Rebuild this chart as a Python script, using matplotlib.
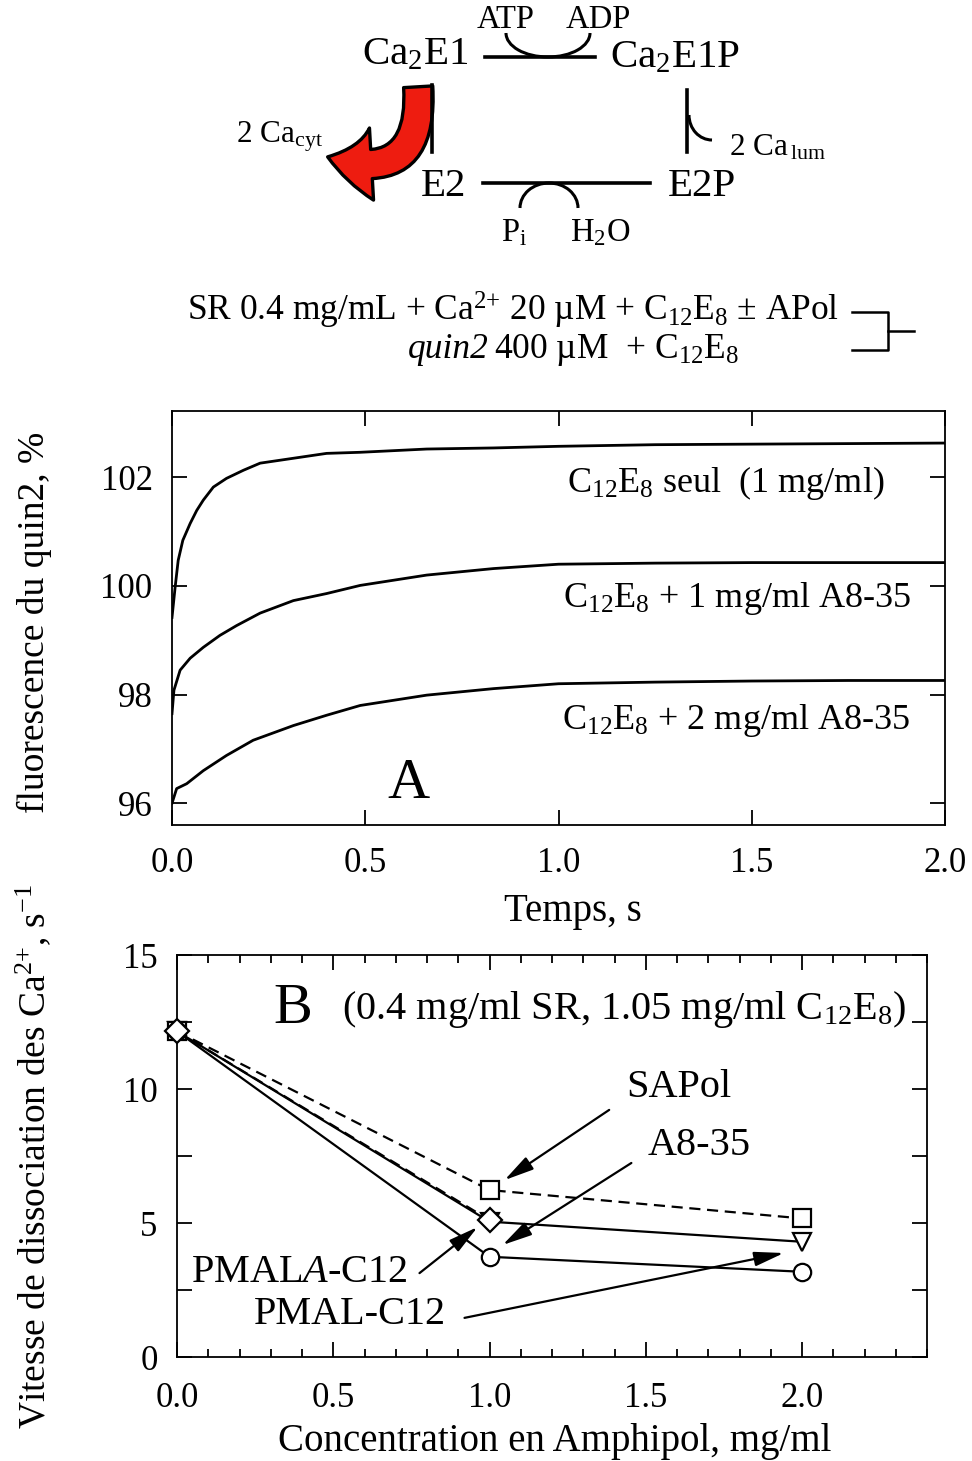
import matplotlib
matplotlib.use("Agg")
import matplotlib.pyplot as plt
from matplotlib.ticker import MultipleLocator, FormatStrFormatter
from matplotlib.patches import FancyArrowPatch, Arc

plt.rcParams['font.family'] = ['Liberation Serif', 'DejaVu Serif']
plt.rcParams['mathtext.fontset'] = 'custom'
plt.rcParams['mathtext.rm'] = 'Liberation Serif'
plt.rcParams['mathtext.it'] = 'Liberation Serif:italic'
plt.rcParams['mathtext.bf'] = 'Liberation Serif:bold'

# ---- panel A : quin2 fluorescence traces (time in s, %)
t_seul = [0.0, 0.008, 0.016, 0.028, 0.047, 0.064, 0.081, 0.107, 0.141, 0.185,
          0.228, 0.314, 0.40, 0.487, 0.659, 0.832, 1.0, 1.25, 1.5, 1.75, 2.0]
f_seul = [99.42, 99.97, 100.47, 100.84, 101.15, 101.39, 101.58, 101.82, 101.98, 102.13,
          102.26, 102.35, 102.44, 102.46, 102.52, 102.54, 102.57, 102.6, 102.61, 102.62, 102.63]

t_a1 = [0.0, 0.005, 0.021, 0.047, 0.081, 0.124, 0.167, 0.228, 0.314, 0.40,
        0.487, 0.659, 0.832, 1.0, 1.25, 1.5, 1.75, 2.0]
f_a1 = [97.65, 98.08, 98.45, 98.67, 98.87, 99.09, 99.27, 99.5, 99.73, 99.86,
        100.01, 100.2, 100.32, 100.4, 100.42, 100.43, 100.43, 100.43]

t_a2 = [0.0, 0.012, 0.038, 0.081, 0.141, 0.21, 0.314, 0.40, 0.487, 0.659,
        0.832, 1.0, 1.25, 1.5, 1.75, 2.0]
f_a2 = [96.0, 96.27, 96.36, 96.6, 96.88, 97.16, 97.43, 97.62, 97.8, 97.99,
        98.11, 98.2, 98.23, 98.25, 98.26, 98.26]

trace_labels = [r'C$_{12}$E$_8$ seul  (1 mg/ml)',
                r'C$_{12}$E$_8$ + 1 mg/ml A8-35',
                r'C$_{12}$E$_8$ + 2 mg/ml A8-35']

# ---- panel B : dissociation rate vs amphipol concentration
conc = [0.0, 1.0, 2.0]
k_sapol = [12.15, 6.23, 5.17]
k_a835 = [12.15, 3.74, 3.18]
k_pmal = [12.15, 5.05, 4.3]
conc_pmala = [0.0, 1.0]
k_pmala = [12.15, 5.11]

fig = plt.figure(figsize=(9.72, 14.61), dpi=100)

# ---- reaction scheme drawn in pixel coordinates
sch = fig.add_axes([0, 0, 1, 1])
sch.set_xlim(0, 972)
sch.set_ylim(1461, 0)
sch.axis('off')
big = 29.5
small = 23.5
sch.text(415, 55, r'Ca$_2$E1', fontsize=big, ha='center', va='center')
sch.text(675, 58, r'Ca$_2$E1P', fontsize=big, ha='center', va='center')
sch.text(443, 187, 'E2', fontsize=big, ha='center', va='center')
sch.text(702, 187, 'E2P', fontsize=big, ha='center', va='center')
sch.text(506, 20, 'ATP', fontsize=small, ha='center', va='center')
sch.text(598, 20, 'ADP', fontsize=small, ha='center', va='center')
sch.text(514, 233, r'P$_{\mathrm{i}}$', fontsize=small, ha='center', va='center')
sch.text(600, 233, r'H$_2$O', fontsize=small, ha='center', va='center')
sch.text(279, 137, r'2 Ca$_{\mathrm{cyt}}$', fontsize=small - 1, ha='center', va='center')
sch.text(777, 148, r'2 Ca$_{\,\mathrm{lum}}$', fontsize=small - 1, ha='center', va='center')
sch.add_patch(FancyArrowPatch((418, 84), (325, 156), connectionstyle='arc3,rad=-0.75',
                              arrowstyle='simple,head_width=2.6,head_length=1.6,tail_width=1.05',
                              mutation_scale=20, fc='#ee1c10', ec='black', lw=2.4, zorder=1))
sch.plot([485, 595], [57, 57], color='black', lw=2.6)
sch.plot([483, 650], [183, 183], color='black', lw=2.6)
sch.plot([432, 432], [85, 152], color='black', lw=2.6, zorder=3)
sch.plot([687, 687], [90, 152], color='black', lw=2.6)
sch.add_patch(Arc((548, 33), 84, 48, theta1=0, theta2=180, color='black', lw=2.2))
sch.add_patch(Arc((549, 208), 58, 50, theta1=180, theta2=360, color='black', lw=2.2))
sch.add_patch(Arc((712, 115), 46, 50, theta1=90, theta2=180, color='black', lw=2.2))

sch.text(513, 310, r'SR 0.4 mg/mL + Ca$^{2{+}}$ 20 µM + C$_{12}$E$_8$ ± APol',
         fontsize=25.5, ha='center', va='center')
sch.text(489, 350, 'quin2', fontsize=25.5, style='italic', ha='right', va='center')
sch.text(494, 350, r'400 µM  + C$_{12}$E$_8$', fontsize=25.5, ha='left', va='center')
sch.plot([852, 888, 888, 852], [312, 312, 350, 350], color='black', lw=1.8)
sch.plot([888, 914], [331, 331], color='black', lw=1.8)

# ---- panel A
axA = fig.add_axes([172/972, 1-825/1461, 773/972, 414/1461])
for t, f in [(t_seul, f_seul), (t_a1, f_a1), (t_a2, f_a2)]:
    axA.plot(t, f, color='black', lw=2.0)
axA.set_xlim(0, 2.0)
axA.set_ylim(95.6, 103.22)
axA.xaxis.set_major_locator(MultipleLocator(0.5))
axA.xaxis.set_major_formatter(FormatStrFormatter('%.1f'))
axA.yaxis.set_major_locator(MultipleLocator(2))
axA.tick_params(direction='in', length=11, width=1.3, top=True, right=True, labelsize=25)
axA.tick_params(axis='x', pad=16)
axA.tick_params(axis='y', pad=14)
for s in axA.spines.values():
    s.set_linewidth(1.3)
axA.text(1.022, 101.9, trace_labels[0], fontsize=26, va='center')
axA.text(1.012, 99.77, trace_labels[1], fontsize=26, va='center')
axA.text(1.009, 97.52, trace_labels[2], fontsize=26, va='center')
axA.text(0.611, 96.35, 'A', fontsize=42, ha='center', va='center')
axA.set_xlabel('Temps, s', fontsize=28)
axA.xaxis.set_label_coords(0.519, -0.165)
axA.set_ylabel('fluorescence du quin2, %', fontsize=27)
axA.yaxis.set_label_coords(-0.155, 0.49)

# ---- panel B
axB = fig.add_axes([177/972, 1-1357/1461, 750/972, 402/1461])
mk = dict(color='black', lw=1.6, ms=12.5, mfc='white', mec='black', mew=1.6, clip_on=False)
axB.plot(conc, k_pmal, marker='v', ls='-', zorder=3, **mk)
axB.plot(conc, k_sapol, marker='s', ls='--', dashes=(5, 3), zorder=4, **mk)
axB.plot(conc, k_a835, marker='o', ls='-', zorder=5, **mk)
axB.plot(conc_pmala, k_pmala, marker='D', ls='--', dashes=(5, 3), zorder=6, **mk)
axB.set_xlim(0, 2.4)
axB.set_ylim(0, 15)
axB.xaxis.set_major_locator(MultipleLocator(0.5))
axB.xaxis.set_minor_locator(MultipleLocator(0.1))
axB.xaxis.set_major_formatter(FormatStrFormatter('%.1f'))
axB.yaxis.set_major_locator(MultipleLocator(5))
axB.yaxis.set_minor_locator(MultipleLocator(2.5))
axB.tick_params(which='both', direction='in', top=True, right=True, width=1.3)
axB.tick_params(which='major', length=11, labelsize=25)
axB.tick_params(axis='x', which='minor', length=6)
axB.tick_params(axis='y', which='minor', length=11)
axB.tick_params(axis='x', pad=18)
axB.tick_params(axis='y', pad=14)
for s in axB.spines.values():
    s.set_linewidth(1.3)
axB.text(0.37, 13.0, 'B', fontsize=42, ha='center', va='center')
axB.text(0.527, 12.95, r'(0.4 mg/ml SR, 1.05 mg/ml C$_{12}$E$_8$)', fontsize=29, va='center')

arr = dict(arrowstyle='-|>,head_length=0.9,head_width=0.22', color='black', lw=1.6,
           mutation_scale=20, shrinkA=0, shrinkB=0)
axB.text(1.607, 10.04, 'SAPol', fontsize=29, ha='center', va='center')
axB.text(1.67, 7.9, 'A8-35', fontsize=29, ha='center', va='center')
axB.text(0.39, 3.17, r'PMAL$\mathit{A}$-C12', fontsize=29, ha='center', va='center')
axB.text(0.553, 1.57, 'PMAL-C12', fontsize=29, ha='center', va='center')
axB.annotate('', xy=(1.048, 6.6), xytext=(1.383, 9.22), arrowprops=arr)
axB.annotate('', xy=(1.042, 4.18), xytext=(1.454, 7.24), arrowprops=arr)
axB.annotate('', xy=(0.962, 4.85), xytext=(0.776, 3.13), arrowprops=arr)
axB.annotate('', xy=(1.942, 3.88), xytext=(0.92, 1.46), arrowprops=arr)
axB.set_xlabel('Concentration en Amphipol, mg/ml', fontsize=28)
axB.xaxis.set_label_coords(0.504, -0.165)
axB.set_ylabel(r'Vitesse de dissociation des Ca$^{2{+}}$, s$^{-1}$', fontsize=27)
axB.yaxis.set_label_coords(-0.165, 0.50)

fig.savefig('out.png', dpi=100)
